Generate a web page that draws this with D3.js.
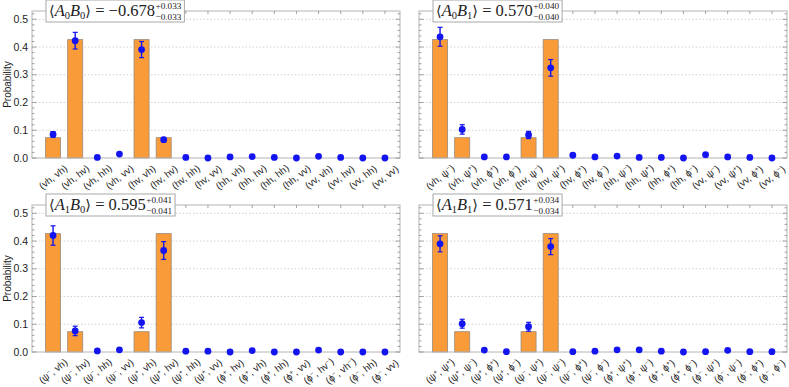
<!DOCTYPE html>
<html>
<head>
<meta charset="utf-8">
<script src="https://cdn.jsdelivr.net/npm/d3@7"></script>
<style>
  body { margin: 0; background: #fff; }
</style>
</head>
<body>
<div id="viz"></div>
<script>
// category labels ("^+" / "^-" mark a superscript sign)
var labelsA0B0 = ["(vh, vh)", "(vh, hv)", "(vh, hh)", "(vh, vv)", "(hv, vh)", "(hv, hv)", "(hv, hh)", "(hv, vv)",
                  "(hh, vh)", "(hh, hv)", "(hh, hh)", "(hh, vv)", "(vv, vh)", "(vv, hv)", "(vv, hh)", "(vv, vv)"];
var labelsA0B1 = ["(vh, ψ^-)", "(vh, ψ^+)", "(vh, ϕ^+)", "(vh, ϕ^-)", "(hv, ψ^-)", "(hv, ψ^+)", "(hv, ϕ^+)", "(hv, ϕ^-)",
                  "(hh, ψ^-)", "(hh, ψ^+)", "(hh, ϕ^+)", "(hh, ϕ^-)", "(vv, ψ^-)", "(vv, ψ^+)", "(vv, ϕ^+)", "(vv, ϕ^-)"];
var labelsA1B0 = ["(ψ^-, vh)", "(ψ^-, hv)", "(ψ^-, hh)", "(ψ^-, vv)", "(ψ^+, vh)", "(ψ^+, hv)", "(ψ^+, hh)", "(ψ^+, vv)",
                  "(ϕ^+, hv)", "(ϕ^+, vh)", "(ϕ^+, hh)", "(ϕ^+, vv)", "(ϕ^-, hv^-)", "(ϕ^-, vh^-)", "(ϕ^-, hh)", "(ϕ^-, vv)"];
var labelsA1B1 = ["(ψ^+, ψ^+)", "(ψ^+, ψ^-)", "(ψ^+, ϕ^+)", "(ψ^+, ϕ^-)", "(ψ^-, ψ^+)", "(ψ^-, ψ^-)", "(ψ^-, ϕ^+)", "(ψ^-, ϕ^-)",
                  "(ϕ^+, ψ^+)", "(ϕ^+, ψ^-)", "(ϕ^+, ϕ^+)", "(ϕ^+, ϕ^-)", "(ϕ^-, ψ^+)", "(ϕ^-, ψ^-)", "(ϕ^-, ϕ^+)", "(ϕ^-, ϕ^-)"];

// theory (bars)
var theoryA0B0 = [0.0732, 0.4268, 0, 0, 0.4268, 0.0732, 0, 0, 0, 0, 0, 0, 0, 0, 0, 0];
var theoryA0B1 = [0.4268, 0.0732, 0, 0, 0.0732, 0.4268, 0, 0, 0, 0, 0, 0, 0, 0, 0, 0];
var theoryA1B0 = [0.4268, 0.0732, 0, 0, 0.0732, 0.4268, 0, 0, 0, 0, 0, 0, 0, 0, 0, 0];
var theoryA1B1 = [0.4268, 0.0732, 0, 0, 0.0732, 0.4268, 0, 0, 0, 0, 0, 0, 0, 0, 0, 0];

// measured (points) and their errors
var measA0B0 = [0.085, 0.423, 0.002, 0.014, 0.391, 0.066, 0.002, 0.000, 0.004, 0.005, 0.002, 0.000, 0.006, 0.002, 0.000, 0.000];
var errA0B0  = [0.010, 0.030, 0.002, 0.003, 0.029, 0.008, 0.002, 0.001, 0.002, 0.002, 0.002, 0.001, 0.002, 0.002, 0.001, 0.001];
var measA0B1 = [0.437, 0.103, 0.004, 0.004, 0.083, 0.325, 0.010, 0.004, 0.007, 0.002, 0.002, 0.000, 0.012, 0.004, 0.002, 0.000];
var errA0B1  = [0.034, 0.017, 0.002, 0.002, 0.013, 0.030, 0.003, 0.002, 0.002, 0.001, 0.001, 0.001, 0.003, 0.002, 0.001, 0.001];
var measA1B0 = [0.420, 0.076, 0.004, 0.008, 0.106, 0.366, 0.003, 0.003, 0.000, 0.005, 0.000, 0.000, 0.007, 0.000, 0.000, 0.000];
var errA1B0  = [0.035, 0.017, 0.002, 0.003, 0.019, 0.032, 0.002, 0.002, 0.001, 0.002, 0.001, 0.001, 0.002, 0.001, 0.001, 0.001];
var measA1B1 = [0.390, 0.102, 0.007, 0.001, 0.091, 0.380, 0.001, 0.003, 0.008, 0.008, 0.003, 0.000, 0.001, 0.006, 0.001, 0.001];
var errA1B1  = [0.029, 0.016, 0.002, 0.001, 0.016, 0.029, 0.001, 0.002, 0.002, 0.002, 0.002, 0.001, 0.001, 0.002, 0.001, 0.001];

// panel titles: correlator, value, +err, -err
var titleOps  = [["A", "0", "B", "0"], ["A", "0", "B", "1"], ["A", "1", "B", "0"], ["A", "1", "B", "1"]];
var titleVals = ["−0.678", "0.570", "0.595", "0.571"];
var titlePlus = ["+0.033", "+0.040", "+0.041", "+0.034"];
var titleMinus = ["−0.033", "−0.040", "−0.041", "−0.034"];

var yTicks = [0, 0.1, 0.2, 0.3, 0.4, 0.5];

var W = 789, H = 387;
var frames = [
  {x0: 32, x1: 400, y0: 11, y1: 158, yAxis: true},
  {x0: 419, x1: 787, y0: 11, y1: 158, yAxis: false},
  {x0: 32, x1: 400, y0: 205, y1: 352, yAxis: true},
  {x0: 419, x1: 787, y0: 205, y1: 352, yAxis: false}
];
var panels = [
  {labels: labelsA0B0, theory: theoryA0B0, meas: measA0B0, err: errA0B0},
  {labels: labelsA0B1, theory: theoryA0B1, meas: measA0B1, err: errA0B1},
  {labels: labelsA1B0, theory: theoryA1B0, meas: measA1B0, err: errA1B0},
  {labels: labelsA1B1, theory: theoryA1B1, meas: measA1B1, err: errA1B1}
];

var svg = d3.select("#viz").append("svg")
  .attr("width", W).attr("height", H)
  .style("font-family", "'Liberation Sans', Arial, sans-serif");

var orange = "#f99b38", blue = "#1414f0";

panels.forEach(function(p, k) {
  var f = frames[k];
  var g = svg.append("g");
  var idx = d3.range(p.labels.length);

  var x = d3.scaleBand().domain(idx).range([f.x0 + 10, f.x1 - 4]).paddingInner(0.32).paddingOuter(0.16);
  var y = d3.scaleLinear().domain([0, 0.53]).range([f.y1, f.y0]);

  // grid
  g.selectAll("line.grid").data(yTicks.slice(1)).enter().append("line")
    .attr("x1", f.x0).attr("x2", f.x1)
    .attr("y1", function(d) { return y(d); }).attr("y2", function(d) { return y(d); })
    .attr("stroke", "#c4c4c4").attr("stroke-width", 0.8).attr("stroke-dasharray", "1.5,2");

  // bars
  g.selectAll("rect.bar").data(idx).enter().append("rect")
    .attr("x", function(i) { return x(i); })
    .attr("width", x.bandwidth())
    .attr("y", function(i) { return y(p.theory[i]); })
    .attr("height", function(i) { return f.y1 - y(p.theory[i]); })
    .attr("fill", orange)
    .attr("stroke", "#9a8a7a").attr("stroke-width", 0.8)
    .style("display", function(i) { return p.theory[i] > 0 ? null : "none"; });

  // frame
  g.append("rect").attr("x", f.x0).attr("y", f.y0)
    .attr("width", f.x1 - f.x0).attr("height", f.y1 - f.y0)
    .attr("fill", "none").attr("stroke", "#b4b4b4").attr("stroke-width", 1);

  // ticks on left / right
  var minor = d3.range(0, 0.53, 0.02);
  [f.x0, f.x1].forEach(function(ex, side) {
    var dir = side === 0 ? 1 : -1;
    g.selectAll(null).data(minor).enter().append("line")
      .attr("x1", ex).attr("x2", function(d) {
        var major = Math.abs(d * 10 - Math.round(d * 10)) < 1e-6;
        return ex + dir * (major ? 4.5 : 2.5);
      })
      .attr("y1", function(d) { return y(d); }).attr("y2", function(d) { return y(d); })
      .attr("stroke", "#8c8c8c").attr("stroke-width", 0.8);
  });
  // ticks on top
  g.selectAll(null).data(idx).enter().append("line")
    .attr("x1", function(i) { return x(i) + x.bandwidth() / 2; })
    .attr("x2", function(i) { return x(i) + x.bandwidth() / 2; })
    .attr("y1", f.y0).attr("y2", f.y0 + 3)
    .attr("stroke", "#8c8c8c").attr("stroke-width", 0.8);

  // y tick labels + axis title
  if (f.yAxis) {
    g.selectAll("text.ytick").data(yTicks).enter().append("text")
      .attr("x", f.x0 - 4).attr("y", function(d) { return y(d); })
      .attr("dy", "0.35em").attr("text-anchor", "end")
      .attr("font-size", 10.5).attr("fill", "#222")
      .text(function(d) { return d.toFixed(1); });
    g.append("text")
      .attr("transform", "translate(11," + ((f.y0 + f.y1) / 2) + ") rotate(-90)")
      .attr("text-anchor", "middle").attr("font-size", 10).attr("fill", "#222")
      .text("Probability");
  }

  // error bars + points
  var cx = function(i) { return x(i) + x.bandwidth() / 2; };
  var eb = g.selectAll("g.err").data(idx).enter().append("g");
  eb.append("line")
    .attr("x1", cx).attr("x2", cx)
    .attr("y1", function(i) { return y(p.meas[i] + p.err[i]); })
    .attr("y2", function(i) { return y(p.meas[i] - p.err[i]); })
    .attr("stroke", blue).attr("stroke-width", 1.4);
  [1, -1].forEach(function(s) {
    eb.append("line")
      .attr("x1", function(i) { return cx(i) - 2.5; }).attr("x2", function(i) { return cx(i) + 2.5; })
      .attr("y1", function(i) { return y(p.meas[i] + s * p.err[i]); })
      .attr("y2", function(i) { return y(p.meas[i] + s * p.err[i]); })
      .attr("stroke", blue).attr("stroke-width", 1.2);
  });
  eb.append("circle")
    .attr("cx", cx).attr("cy", function(i) { return y(p.meas[i]); })
    .attr("r", 3.4).attr("fill", blue);

  // x labels, rotated and centred under each category
  g.selectAll("text.xl").data(idx).enter().append("text")
    .attr("transform", function(i) { return "translate(" + cx(i) + "," + (f.y1 + 19) + ") rotate(-38)"; })
    .attr("text-anchor", "middle").attr("dy", "0.35em")
    .attr("font-size", 9.8).attr("fill", "#222")
    .each(function(i) {
      var t = d3.select(this);
      var parts = p.labels[i].split(/\^([+-])/);
      parts.forEach(function(s, j) {
        if (j % 2 === 0) {
          if (s) t.append("tspan").text(s);
        } else {
          t.append("tspan").attr("font-size", 6.5).attr("dy", -3.5).text(s === "-" ? "−" : "+");
          t.append("tspan").attr("dy", 3.5).text("\u200B");
        }
      });
    });

  // title box
  var tb = g.append("g").attr("transform", "translate(" + (f.x0 + 14) + "," + (f.y0 - 11) + ")");
  var box = tb.append("rect").attr("y", 0).attr("height", 22)
    .attr("fill", "#fff").attr("stroke", "#a8a8a8").attr("stroke-width", 1);
  var ops = titleOps[k];
  var tt = tb.append("text").attr("x", 3).attr("y", 15.5)
    .attr("font-family", "'Liberation Serif', 'DejaVu Serif', serif")
    .attr("font-size", 16.5).attr("fill", "#222");
  tt.append("tspan").attr("font-family", "'DejaVu Serif', serif").attr("font-size", 14.5).text("⟨");
  tt.append("tspan").attr("font-style", "italic").text(ops[0]);
  tt.append("tspan").attr("font-size", 10.5).attr("dy", 3).text(ops[1]);
  tt.append("tspan").attr("font-style", "italic").attr("dy", -3).text(ops[2]);
  tt.append("tspan").attr("font-size", 10.5).attr("dy", 3).text(ops[3]);
  tt.append("tspan").attr("font-family", "'DejaVu Serif', serif").attr("font-size", 14.5).attr("dy", -3).text("⟩");
  tt.append("tspan").text(" = " + titleVals[k]);
  var tw = tt.node().getComputedTextLength();
  var sx = 3 + tw + 0.5;
  var sup = tb.append("text").attr("x", sx).attr("y", 8.6)
    .attr("font-family", "'Liberation Serif', serif").attr("font-size", 9.2).attr("fill", "#222")
    .text(titlePlus[k]);
  tb.append("text").attr("x", sx).attr("y", 19.6)
    .attr("font-family", "'Liberation Serif', serif").attr("font-size", 9.2).attr("fill", "#222")
    .text(titleMinus[k]);
  var sw = sup.node().getComputedTextLength();
  box.attr("width", sx + sw + 3);
});
</script>
</body>
</html>
